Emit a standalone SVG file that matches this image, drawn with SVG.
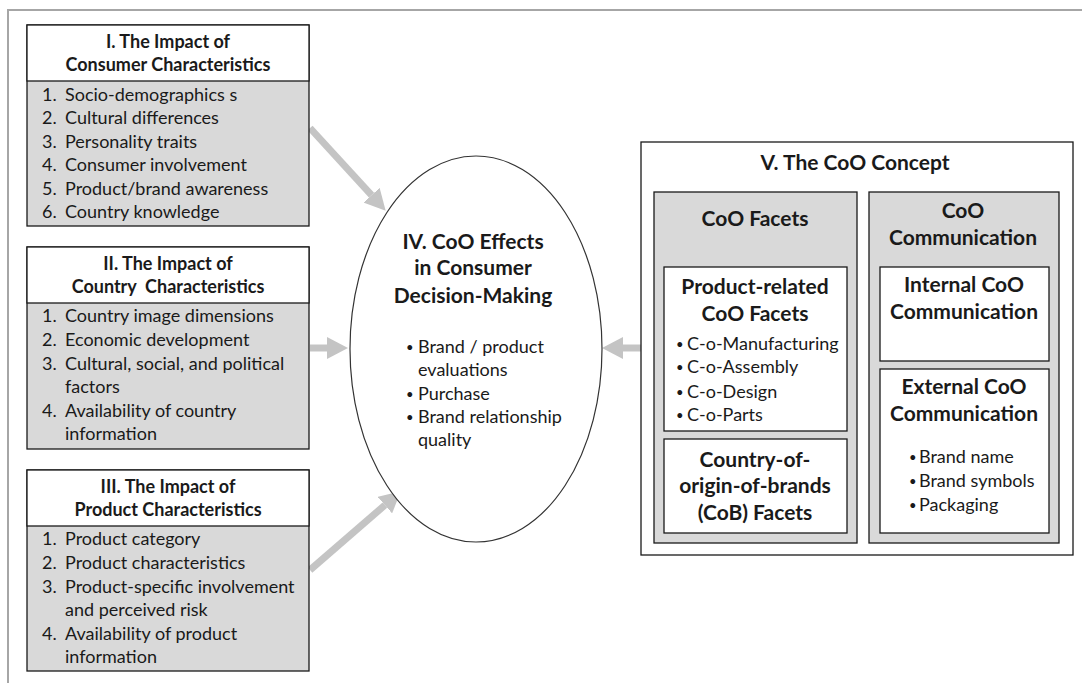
<svg xmlns="http://www.w3.org/2000/svg" width="1082" height="683" viewBox="0 0 1082 683">
<style>
text{font-family:Lato,"Liberation Sans",sans-serif;fill:#1a1a1a}
.h{font-weight:bold;font-size:18px;text-anchor:middle}
.hb{font-weight:bold;font-size:21px;text-anchor:middle}
.t{font-size:18px}
.b{font-size:13px}
.box{fill:#fff;stroke:#1a1a1a;stroke-width:1.3}
.g{fill:#d9d9d9;stroke:#1a1a1a;stroke-width:1.3}
.arr{stroke:#c4c4c4;stroke-width:7;fill:none}
</style>
<defs>
<marker id="ah" markerUnits="userSpaceOnUse" markerWidth="21" markerHeight="22" refX="0" refY="11" orient="auto" viewBox="0 0 21 22">
<path d="M0,0 L21,11 L0,22 z" fill="#c4c4c4"/>
</marker>
</defs>
<rect width="1082" height="683" fill="#fff"/>
<path d="M8,683 V10 H1082" fill="none" stroke="#a6a6a6" stroke-width="2"/>

<g id="connectors">
<line class="arr" x1="310" y1="128" x2="371.5" y2="195.2" marker-end="url(#ah)"/>
<line class="arr" x1="310" y1="348" x2="327" y2="348" marker-end="url(#ah)"/>
<line class="arr" x1="310" y1="570" x2="384.9" y2="505.1" marker-end="url(#ah)"/>
<line class="arr" x1="641" y1="348" x2="623" y2="348" marker-end="url(#ah)"/>
</g>

<g id="box1">
<rect class="g" x="27" y="25" width="282" height="201"/>
<rect class="box" x="27" y="25" width="282" height="56"/>
<text class="h" x="168" y="48">I. The Impact of</text>
<text class="h" x="168" y="71">Consumer Characteristics</text>
<text class="t" x="42" y="101">1.</text><text class="t" x="65" y="101">Socio-demographics s</text>
<text class="t" x="42" y="124">2.</text><text class="t" x="65" y="124">Cultural differences</text>
<text class="t" x="42" y="148">3.</text><text class="t" x="65" y="148">Personality traits</text>
<text class="t" x="42" y="171">4.</text><text class="t" x="65" y="171">Consumer involvement</text>
<text class="t" x="42" y="195">5.</text><text class="t" x="65" y="195">Product/brand awareness</text>
<text class="t" x="42" y="218">6.</text><text class="t" x="65" y="218">Country knowledge</text>
</g>

<g id="box2">
<rect class="g" x="27" y="247" width="282" height="202"/>
<rect class="box" x="27" y="247" width="282" height="56"/>
<text class="h" x="168" y="270">II. The Impact of</text>
<text class="h" x="168" y="293" xml:space="preserve">Country  Characteristics</text>
<text class="t" x="42" y="322">1.</text><text class="t" x="65" y="322">Country image dimensions</text>
<text class="t" x="42" y="346">2.</text><text class="t" x="65" y="346">Economic development</text>
<text class="t" x="42" y="370">3.</text><text class="t" x="65" y="370">Cultural, social, and political</text>
<text class="t" x="65" y="393">factors</text>
<text class="t" x="42" y="417">4.</text><text class="t" x="65" y="417">Availability of country</text>
<text class="t" x="65" y="440">information</text>
</g>

<g id="box3">
<rect class="g" x="27" y="470" width="282" height="201"/>
<rect class="box" x="27" y="470" width="282" height="56"/>
<text class="h" x="168" y="493">III. The Impact of</text>
<text class="h" x="168" y="516">Product Characteristics</text>
<text class="t" x="42" y="545">1.</text><text class="t" x="65" y="545">Product category</text>
<text class="t" x="42" y="569">2.</text><text class="t" x="65" y="569">Product characteristics</text>
<text class="t" x="42" y="593">3.</text><text class="t" x="65" y="593">Product-specific involvement</text>
<text class="t" x="65" y="616">and perceived risk</text>
<text class="t" x="42" y="640">4.</text><text class="t" x="65" y="640">Availability of product</text>
<text class="t" x="65" y="663">information</text>
</g>

<g id="effects">
<ellipse cx="476" cy="349" rx="126" ry="193" fill="#fff" stroke="#333" stroke-width="1.2"/>
<text class="hb" x="473" y="249">IV. CoO Effects</text>
<text class="hb" x="473" y="275">in Consumer</text>
<text class="hb" x="473" y="303">Decision-Making</text>
<text class="b" x="406" y="352">•</text><text class="t" x="418" y="353">Brand / product</text>
<text class="t" x="418" y="376">evaluations</text>
<text class="b" x="406" y="399">•</text><text class="t" x="418" y="400">Purchase</text>
<text class="b" x="406" y="422">•</text><text class="t" x="418" y="423">Brand relationship</text>
<text class="t" x="418" y="446">quality</text>
</g>

<g id="concept">
<rect class="box" x="641" y="142" width="432" height="413"/>
<text class="hb" x="855" y="170">V. The CoO Concept</text>
</g>

<g id="facets">
<rect class="g" x="654" y="192" width="203" height="351"/>
<text class="hb" x="755" y="226">CoO Facets</text>
</g>

<g id="product-related">
<rect class="box" x="664" y="267" width="183" height="164"/>
<text class="hb" x="755" y="294">Product-related</text>
<text class="hb" x="755" y="321">CoO Facets</text>
<text class="b" x="676" y="349">•</text><text class="t" x="687" y="350">C-o-Manufacturing</text>
<text class="b" x="676" y="372">•</text><text class="t" x="687" y="373">C-o-Assembly</text>
<text class="b" x="676" y="397">•</text><text class="t" x="687" y="398">C-o-Design</text>
<text class="b" x="676" y="420">•</text><text class="t" x="687" y="421">C-o-Parts</text>
</g>

<g id="cob">
<rect class="box" x="664" y="439" width="183" height="94"/>
<text class="hb" x="755" y="467">Country-of-</text>
<text class="hb" x="755" y="493">origin-of-brands</text>
<text class="hb" x="755" y="520">(CoB) Facets</text>
</g>

<g id="communication">
<rect class="g" x="869" y="192" width="190" height="351"/>
<text class="hb" x="963" y="218">CoO</text>
<text class="hb" x="963" y="245">Communication</text>
</g>

<g id="internal">
<rect class="box" x="880" y="267" width="169" height="94"/>
<text class="hb" x="964" y="292">Internal CoO</text>
<text class="hb" x="964" y="319">Communication</text>
</g>

<g id="external">
<rect class="box" x="880" y="369" width="169" height="164"/>
<text class="hb" x="964" y="394">External CoO</text>
<text class="hb" x="964" y="421">Communication</text>
<text class="b" x="909" y="462">•</text><text class="t" x="919" y="463">Brand name</text>
<text class="b" x="909" y="486">•</text><text class="t" x="919" y="487">Brand symbols</text>
<text class="b" x="909" y="510">•</text><text class="t" x="919" y="511">Packaging</text>
</g>
</svg>
